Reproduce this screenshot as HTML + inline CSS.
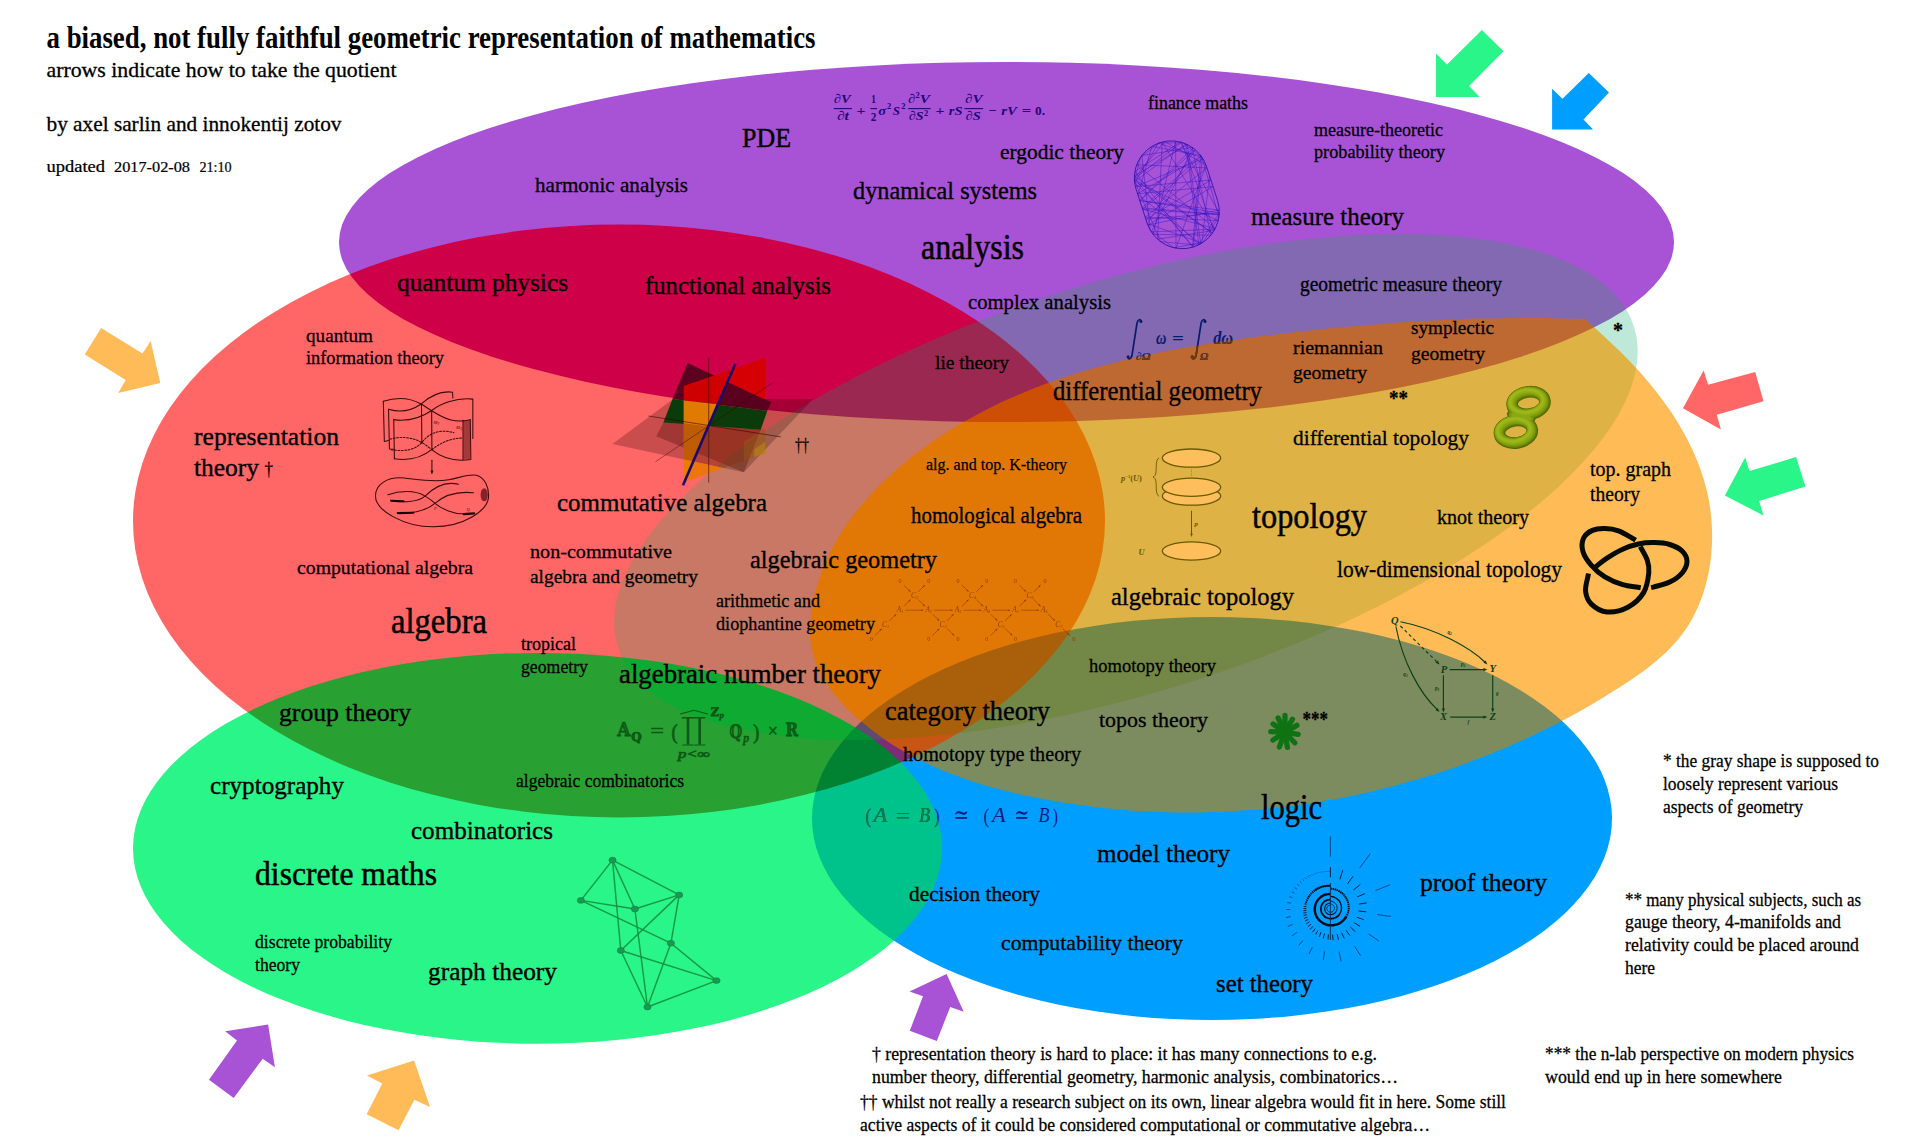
<!DOCTYPE html>
<html lang="en"><head><meta charset="utf-8"><title>a biased, not fully faithful geometric representation of mathematics</title>
<style>
html,body{margin:0;padding:0;background:#fff;}
body{width:1920px;height:1148px;overflow:hidden;}
svg{display:block;}
text{font-family:"Liberation Serif","DejaVu Serif",serif;white-space:pre;}
</style></head><body>
<svg width="1920" height="1148" viewBox="0 0 1920 1148">
<rect width="1920" height="1148" fill="#fff"/>
<g id="regions">
<defs>
<ellipse cx="1006.5" cy="242" rx="667.5" ry="180" id="sP"/>
<ellipse cx="619" cy="521" rx="486" ry="296.4" id="sR"/>
<ellipse cx="537.5" cy="848.3" rx="404.5" ry="195.4" id="sG"/>
<ellipse cx="1212" cy="818.5" rx="400" ry="201.5" id="sB"/>
<ellipse cx="1125.9" cy="486.9" rx="532.7" ry="205.4" transform="rotate(-17.49 1125.9 486.9)" id="sY"/>
<path d="M1585.0,319.0C1591.2,324.7 1597.5,330.2 1603.7,336.0C1609.9,341.7 1616.1,347.5 1622.1,353.5C1628.2,359.6 1634.1,365.8 1639.8,372.1C1645.5,378.5 1651.0,385.0 1656.3,391.7C1661.5,398.4 1666.6,405.3 1671.3,412.3C1676.0,419.4 1680.4,426.6 1684.4,433.9C1688.4,441.3 1692.2,448.8 1695.4,456.5C1698.7,464.2 1701.5,472.0 1703.9,480.0C1706.3,488.0 1708.2,496.2 1709.6,504.5C1710.9,512.8 1711.8,521.3 1712.0,529.9C1712.3,538.5 1712.0,547.3 1711.1,556.0C1710.2,564.6 1708.7,573.4 1706.5,581.8C1704.4,590.2 1701.7,598.5 1698.3,606.3C1694.9,614.1 1690.9,621.6 1686.3,628.5C1681.7,635.4 1676.3,641.8 1670.6,647.8C1664.9,653.8 1658.5,659.2 1652.0,664.5C1645.5,669.8 1638.5,674.6 1631.5,679.4C1624.5,684.2 1617.3,688.8 1610.1,693.3C1602.9,697.8 1595.6,702.1 1588.3,706.4C1580.9,710.6 1573.5,714.7 1566.0,718.7C1558.5,722.7 1551.0,726.6 1543.4,730.3C1535.8,734.0 1528.1,737.7 1520.4,741.2C1512.7,744.7 1504.9,748.0 1497.1,751.3C1489.3,754.5 1481.4,757.6 1473.5,760.6C1465.5,763.6 1457.6,766.5 1449.6,769.2C1441.5,771.9 1433.5,774.5 1425.4,777.0C1417.3,779.5 1409.2,781.8 1401.0,784.1C1392.8,786.3 1384.6,788.4 1376.4,790.4C1368.1,792.3 1359.9,794.2 1351.6,795.9C1343.3,797.6 1335.0,799.1 1326.6,800.6C1318.3,802.0 1309.9,803.3 1301.5,804.5C1293.1,805.7 1284.7,806.8 1276.3,807.7C1267.9,808.6 1259.4,809.4 1251.0,810.1C1242.6,810.7 1234.1,811.2 1225.6,811.6C1217.2,812.0 1208.7,812.3 1200.2,812.4C1191.7,812.5 1183.3,812.5 1174.8,812.4C1166.3,812.2 1157.8,811.9 1149.4,811.5C1140.9,811.1 1132.4,810.6 1124.0,809.9C1115.5,809.2 1107.1,808.4 1098.6,807.4C1090.2,806.5 1081.8,805.4 1073.4,804.1C1065.0,802.9 1056.6,801.5 1048.2,800.0C1039.8,798.5 1031.5,796.9 1023.2,795.1C1014.9,793.3 1006.6,791.3 998.4,789.1C990.2,787.0 982.1,784.6 974.0,782.0C966.0,779.4 958.0,776.6 950.2,773.6C942.3,770.5 934.6,767.2 927.0,763.6C919.4,760.0 911.9,756.1 904.6,751.9C897.3,747.7 890.1,743.2 883.2,738.4C876.2,733.5 869.3,728.3 862.8,722.8C856.2,717.2 849.7,711.2 843.8,704.9C838.0,698.6 832.3,692.0 827.7,685.0C823.0,678.0 818.8,670.6 815.9,663.0C813.0,655.3 811.1,647.2 810.3,639.1C809.5,630.9 810.0,622.3 811.0,613.9C812.0,605.6 813.9,597.1 816.1,589.0C818.4,580.9 821.2,573.0 824.4,565.3C827.6,557.6 831.3,550.1 835.3,542.8C839.4,535.5 843.9,528.5 848.8,521.6C853.6,514.8 858.9,508.1 864.4,501.7C869.9,495.3 875.8,489.1 881.9,483.1C887.9,477.1 894.4,471.3 900.9,465.7C907.5,460.1 914.4,454.8 921.3,449.6C928.3,444.5 935.5,439.5 942.8,434.8C950.1,430.1 957.5,425.6 965.0,421.3C972.5,417.0 980.1,413.0 987.7,409.1C995.3,405.2 1003.0,401.6 1010.7,398.1C1018.4,394.7 1026.2,391.4 1034.1,388.3C1041.9,385.2 1049.8,382.3 1057.7,379.6C1065.7,376.8 1073.7,374.2 1081.7,371.8C1089.7,369.3 1097.8,367.1 1105.9,364.9C1114.0,362.7 1122.1,360.7 1130.3,358.8C1138.4,356.9 1146.6,355.1 1154.9,353.4C1163.1,351.7 1171.4,350.1 1179.7,348.6C1188.0,347.1 1196.3,345.7 1204.6,344.4C1213.0,343.0 1221.3,341.8 1229.7,340.6C1238.1,339.4 1246.5,338.2 1254.9,337.1C1263.3,336.0 1271.7,335.0 1280.2,333.9C1288.6,332.9 1297.0,331.9 1305.5,331.0C1314.0,330.1 1322.4,329.2 1330.9,328.3C1339.4,327.5 1347.8,326.7 1356.3,326.0C1364.8,325.2 1373.3,324.5 1381.8,323.9C1390.3,323.2 1398.8,322.6 1407.3,322.1C1415.8,321.5 1424.3,321.0 1432.8,320.6C1441.3,320.1 1449.7,319.8 1458.2,319.4C1466.7,319.1 1475.2,318.8 1483.7,318.6C1492.2,318.4 1500.6,318.3 1509.1,318.2C1517.6,318.1 1526.0,318.0 1534.5,318.1C1542.9,318.1 1551.3,318.2 1559.8,318.4C1568.2,318.5 1576.6,318.8 1585.0,319.0Z" id="sO"/>
<mask id="mP" maskUnits="userSpaceOnUse" x="0" y="0" width="1920" height="1148" style="mask-type:alpha"><use href="#sP" fill="#fff"/></mask>
<mask id="mR" maskUnits="userSpaceOnUse" x="0" y="0" width="1920" height="1148" style="mask-type:alpha"><use href="#sR" fill="#fff"/></mask>
<mask id="mG" maskUnits="userSpaceOnUse" x="0" y="0" width="1920" height="1148" style="mask-type:alpha"><use href="#sG" fill="#fff"/></mask>
<mask id="mB" maskUnits="userSpaceOnUse" x="0" y="0" width="1920" height="1148" style="mask-type:alpha"><use href="#sB" fill="#fff"/></mask>
<mask id="mY" maskUnits="userSpaceOnUse" x="0" y="0" width="1920" height="1148" style="mask-type:alpha"><use href="#sY" fill="#fff"/></mask>
<mask id="mO" maskUnits="userSpaceOnUse" x="0" y="0" width="1920" height="1148" style="mask-type:alpha"><use href="#sO" fill="#fff"/></mask>
<clipPath id="clipO"><use href="#sO"/></clipPath>
<clipPath id="clipG"><use href="#sG"/></clipPath>
</defs>
<rect width="1920" height="1148" fill="#ffffff"/>
<use href="#sO" fill="#ffbb56"/>
<g mask="url(#mY)"><rect width="1920" height="1148" fill="#bee8d7"/>
<use href="#sO" fill="#deb244"/></g>
<g mask="url(#mB)"><rect width="1920" height="1148" fill="#009eff"/>
<use href="#sO" fill="#7d8c5f"/>
<g mask="url(#mY)"><rect width="1920" height="1148" fill="#2896c8"/>
<use href="#sO" fill="#738746"/></g></g>
<g mask="url(#mG)"><rect width="1920" height="1148" fill="#2af588"/>
<use href="#sY" fill="#1ec86e"/>
<g mask="url(#mB)"><rect width="1920" height="1148" fill="#00c38c"/>
<use href="#sY" fill="#00aa78"/></g></g>
<g mask="url(#mR)"><rect width="1920" height="1148" fill="#ff6666"/>
<use href="#sO" fill="#f07d14"/>
<g mask="url(#mY)"><rect width="1920" height="1148" fill="#c87864"/>
<use href="#sO" fill="#e17805"/></g>
<g mask="url(#mB)"><rect width="1920" height="1148" fill="#7d2d78"/>
<use href="#sO" fill="#c85514"/>
<g mask="url(#mY)"><rect width="1920" height="1148" fill="#5f4b6e"/>
<use href="#sO" fill="#aa5f0a"/></g></g>
<g mask="url(#mG)"><rect width="1920" height="1148" fill="#28a032"/>
<use href="#sY" fill="#0faa32"/>
<g mask="url(#mB)"><rect width="1920" height="1148" fill="#008232"/>
<use href="#sY" fill="#009132"/></g></g></g>
<g mask="url(#mP)"><rect width="1920" height="1148" fill="#a852d6"/>
<use href="#sO" fill="#d6893b"/>
<g mask="url(#mY)"><rect width="1920" height="1148" fill="#8269b2"/>
<use href="#sO" fill="#be6932"/></g>
<g mask="url(#mR)"><rect width="1920" height="1148" fill="#cd0048"/>
<use href="#sO" fill="#cd4e05"/>
<g mask="url(#mY)"><rect width="1920" height="1148" fill="#9b2850"/>
<use href="#sO" fill="#cd4e05"/></g></g></g>
</g>
<g id="figures">
<defs><filter id="soft" x="-20%" y="-20%" width="140%" height="140%"><feGaussianBlur stdDeviation="0.7"/></filter></defs>
<polygon points="1481.9,30.0 1503.5,51.2 1469.1,86.0 1479.6,97.1 1436.0,97.1 1436.0,53.8 1447.1,64.4" fill="#2af588"/>
<polygon points="1588.8,72.9 1609.0,92.5 1583.5,119.6 1593.1,129.6 1552.1,129.6 1552.1,88.8 1562.5,98.8" fill="#009fff"/>
<polygon points="1683.0,408.3 1703.6,370.4 1708.1,384.8 1755.2,372.0 1763.5,401.3 1716.8,414.8 1720.9,429.5" fill="#ff6666"/>
<polygon points="1724.9,495.5 1745.2,457.4 1749.4,471.1 1796.1,457.1 1805.4,486.4 1759.1,501.0 1763.5,515.5" fill="#2af588"/>
<polygon points="101.1,328.0 84.8,354.4 125.7,379.9 118.2,393.0 160.3,383.0 150.6,340.9 142.5,353.5" fill="#ffbb57"/>
<polygon points="268.1,1024.5 225.2,1031.3 237.0,1040.5 209.0,1079.7 233.7,1098.0 262.7,1058.7 274.9,1067.3" fill="#a852d6"/>
<polygon points="414.1,1060.5 367.0,1075.4 382.3,1083.5 366.7,1114.3 398.5,1130.2 414.4,1099.8 430.1,1107.1" fill="#ffbb57"/>
<polygon points="946.6,974.1 909.6,991.4 923.0,996.2 909.8,1030.8 936.8,1041.1 950.2,1006.9 963.7,1011.7" fill="#a852d6"/>
<polygon points="612.4,444.1 673.2,399.0 813.0,399.0 743.8,472.2" fill="#200" fill-opacity="0.24"/>
<polygon points="687.6,363.1 771.2,402.3 767.3,410.8 672.5,399.0" fill="#50001c" fill-opacity="0.9"/>
<polygon points="672.5,399.0 767.3,410.8 760.7,429.7 663.4,422.5" fill="#003a06" fill-opacity="0.95"/>
<polygon points="663.4,422.5 760.7,429.7 743.8,472.2 656.2,436.3" fill="#501008" fill-opacity="0.35"/>
<polygon points="733.3,368.8 765.3,357.8 765.3,399.5 727.4,381.8" fill="#d40000" fill-opacity="0.95"/>
<polygon points="683.6,385.9 733.3,368.8 717.9,404.2 683.6,400.4" fill="#d40000" fill-opacity="0.95"/>
<polygon points="683.6,400.4 717.9,404.2 684.4,482.0 683.6,482.0" fill="#ec7d00" fill-opacity="0.95"/>
<polygon points="693.0,461.3 723.6,467.9 684.4,482.0" fill="#ea7800" fill-opacity="0.9"/>
<polygon points="711.1,426.5 760.7,429.7 765.3,428.4 765.3,453.2 723.6,467.9 693.0,461.3" fill="#8a2a00" fill-opacity="0.3"/>
<polygon points="743.8,441.5 765.3,428.4 765.3,453.2 743.8,460.8" fill="#b09000" fill-opacity="0.18"/>
<polygon points="754.2,449.3 765.3,441.5 765.3,453.2 754.2,457.2" fill="#d0a800" fill-opacity="0.35"/>
<polygon points="683.6,423.2 708.5,426.5 693.0,461.3 683.6,459.3" fill="#501008" fill-opacity="0.28"/>
<line x1="708.7" y1="357.8" x2="708.7" y2="482.6" stroke="#40100a" stroke-width="0.8" stroke-opacity="0.8"/>
<line x1="648.4" y1="416.0" x2="781.0" y2="436.9" stroke="#300" stroke-width="0.7" stroke-opacity="0.8"/>
<line x1="655.5" y1="461.7" x2="773.8" y2="382.0" stroke="#300" stroke-width="0.6" stroke-opacity="0.7"/>
<line x1="735.3" y1="363.7" x2="683.0" y2="485.3" stroke="#1a0a6e" stroke-width="2.6" stroke-opacity="1"/>
<g transform="translate(365,385) scale(0.1307)" fill="none" stroke="#3a0a0a" stroke-width="8" stroke-linecap="round" stroke-linejoin="round">
<path d="M140,125 C230,95 330,90 430,145 C480,175 560,240 650,265 C720,285 770,275 805,265"/>
<path d="M180,185 C260,210 350,200 430,145 C480,100 560,40 670,55 L672,100"/>
<path d="M220,265 C330,280 430,250 510,195 C580,140 700,95 825,108 L825,410"/>
<path d="M140,125 L148,432 L180,425"/>
<path d="M180,185 L187,490 L222,492"/>
<path d="M220,265 L225,565"/>
<path d="M225,565 C330,580 430,560 510,495 C590,560 680,590 810,570 L805,265"/>
<path d="M432,145 L435,440"/>
<path d="M510,195 L512,495"/>
<path d="M750,270 L750,570"/>
<path d="M80,850 C80,760 170,700 300,712 C420,725 520,745 640,725 C720,712 790,680 850,690 C920,705 950,790 945,860 C935,960 760,1085 520,1085 C300,1085 80,960 80,850 Z"/>
<path d="M175,840 C260,810 380,800 460,850 C500,875 520,890 535,905 C590,950 680,990 760,985"/>
<path d="M200,885 C280,900 400,900 460,850 C520,790 600,730 715,760"/>
<path d="M250,980 C380,985 470,960 535,905 C600,850 700,810 830,825"/>
<path d="M512,575 L512,670"/>
<path d="M190,415 C280,390 360,400 435,440 C470,460 490,480 512,495" stroke-dasharray="14 12"/>
<path d="M200,495 C300,510 380,500 435,440 C480,380 560,330 680,365" stroke-dasharray="14 12"/>
<path d="M512,495 C580,440 650,410 745,405" stroke-dasharray="14 12"/>
<path d="M500,655 L512,685 L524,655 Z" fill="#3a0a0a" stroke="none"/>
<path d="M200,885 L295,890 M250,980 L370,978 M755,988 L835,982" stroke-width="16" stroke="#1a0505"/>
<rect x="752" y="272" width="54" height="296" fill="#5a1414" fill-opacity="0.55" stroke="none"/>
<ellipse cx="912" cy="840" rx="28" ry="50" fill="#8a2028" stroke="none"/>
<circle cx="435" cy="440" r="7" fill="#3a0a0a" stroke="none"/>
</g>
<g font-style="italic" font-size="4.5" fill="#3a0a0a"><text x="433.5" y="424">M</text><text x="437.5" y="425" font-size="3">P</text><text x="456" y="429">M</text><text x="460" y="430" font-size="3">Q</text><text x="434" y="509.5">P</text><text x="466.5" y="511">Q</text></g>
<g transform="rotate(-18 1176.8 194.8)"><rect x="1139.8" y="140.0" width="74.0" height="109.6" rx="37.0" ry="37.0" fill="none" stroke="#2a12a0" stroke-width="0.9" stroke-opacity="0.85"/></g>
<path d="M1142.5,209.1 L1215.2,228.6 L1136.7,164.7 L1206.9,167.9 L1145.2,217.2 L1218.2,220.6 L1134.5,181.5 L1185.9,143.9 L1198.9,244.8 L1134.6,182.6 L1158.5,143.2 L1202.3,157.8 L1193.4,247.0 L1134.3,178.3 L1164.6,141.5 L1206.0,165.0 L1176.0,248.2 L1175.6,141.1 L1153.1,234.4 L1210.9,235.2 L1192.2,147.4 L1141.8,155.5 L1150.3,230.2 L1174.2,247.8 L1203.3,242.1 L1218.9,216.8 L1201.8,156.9 L1182.9,142.8 L1159.2,142.9 L1140.4,157.5 L1134.4,180.6 L1160.6,241.7 L1198.4,245.0 L1219.2,213.2 L1180.4,142.0 L1134.9,171.5 L1192.5,247.3 L1200.8,155.6 L1151.9,146.4 L1137.9,194.9 L1200.7,243.8 L1187.4,144.6 L1134.4,176.1 L1212.4,233.2 L1134.3,178.8 L1181.4,142.3 L1214.2,230.4 L1157.6,239.2 L1162.2,142.0 L1214.9,229.2 L1151.3,231.9 L1192.9,147.9 L1139.8,200.6 L1219.3,213.0 L1145.9,219.3 L1210.9,180.1 L1135.4,186.6 L1202.9,158.7 L1142.6,209.3 L1219.2,214.7 L1142.1,207.8 L1201.3,156.2 L1137.6,193.8 L1213.0,186.6 L1147.8,225.1 L1219.2,210.1 L1139.8,200.7 L1195.1,149.6 L1147.3,223.6 L1201.8,243.1 L1209.5,175.9" fill="none" stroke="#2a10c0" stroke-width="0.7" stroke-opacity="0.6" stroke-linejoin="round"/>
<g opacity="0.9"><g fill="#8a3c00" font-style="italic" font-size="7.4" text-anchor="middle">
<text x="900.0" y="612.2">A<tspan font-size="4.2" dy="1">1</tspan></text>
<text x="928.8" y="612.2">A<tspan font-size="4.2" dy="1">2</tspan></text>
<text x="958.1" y="612.2">A<tspan font-size="4.2" dy="1">3</tspan></text>
<text x="986.9" y="612.2">A<tspan font-size="4.2" dy="1">4</tspan></text>
<text x="1015.6" y="612.2">A<tspan font-size="4.2" dy="1">5</tspan></text>
<text x="1044.4" y="612.2">A<tspan font-size="4.2" dy="1">6</tspan></text>
<text x="914.4" y="597.6">C<tspan font-size="4.2" dy="1">2</tspan></text>
<text x="972.5" y="597.6">C<tspan font-size="4.2" dy="1">4</tspan></text>
<text x="1030.0" y="597.6">C<tspan font-size="4.2" dy="1">6</tspan></text>
<text x="885.6" y="626.8">C<tspan font-size="4.2" dy="1">1</tspan></text>
<text x="943.1" y="626.8">C<tspan font-size="4.2" dy="1">3</tspan></text>
<text x="1001.2" y="626.8">C<tspan font-size="4.2" dy="1">5</tspan></text>
<text x="1058.8" y="626.8">C<tspan font-size="4.2" dy="1">7</tspan></text>
<text x="900.0" y="583.2" font-style="normal" font-size="6.2">0</text>
<text x="928.8" y="583.2" font-style="normal" font-size="6.2">0</text>
<text x="958.1" y="583.2" font-style="normal" font-size="6.2">0</text>
<text x="986.9" y="583.2" font-style="normal" font-size="6.2">0</text>
<text x="1015.6" y="583.2" font-style="normal" font-size="6.2">0</text>
<text x="1045.0" y="583.2" font-style="normal" font-size="6.2">0</text>
<text x="871.2" y="641.4" font-style="normal" font-size="6.2">0</text>
<text x="928.8" y="641.4" font-style="normal" font-size="6.2">0</text>
<text x="958.1" y="641.4" font-style="normal" font-size="6.2">0</text>
<text x="986.9" y="641.4" font-style="normal" font-size="6.2">0</text>
<text x="1015.6" y="641.4" font-style="normal" font-size="6.2">0</text>
<text x="1073.8" y="641.4" font-style="normal" font-size="6.2">0</text>
</g><g stroke="#8a3c00" stroke-width="0.65" fill="#8a3c00">
<line x1="905.4" y1="610.2" x2="923.4" y2="610.2"/><polygon stroke="none" points="923.4,610.2 921.0,611.1 921.0,609.4"/>
<line x1="934.1" y1="610.2" x2="952.7" y2="610.2"/><polygon stroke="none" points="952.7,610.2 950.3,611.1 950.3,609.4"/>
<line x1="963.5" y1="610.2" x2="981.5" y2="610.2"/><polygon stroke="none" points="981.5,610.2 979.1,611.1 979.1,609.4"/>
<line x1="992.3" y1="610.2" x2="1010.2" y2="610.2"/><polygon stroke="none" points="1010.2,610.2 1007.8,611.1 1007.8,609.4"/>
<line x1="1021.0" y1="610.2" x2="1039.0" y2="610.2"/><polygon stroke="none" points="1039.0,610.2 1036.6,611.1 1036.6,609.4"/>
<line x1="903.8" y1="585.1" x2="910.6" y2="591.8"/><polygon stroke="none" points="910.6,591.8 908.2,590.7 909.5,589.5"/>
<line x1="918.2" y1="591.8" x2="924.9" y2="585.1"/><polygon stroke="none" points="924.9,585.1 923.9,587.4 922.6,586.1"/>
<line x1="903.8" y1="606.4" x2="910.6" y2="599.5"/><polygon stroke="none" points="910.6,599.5 909.5,601.8 908.3,600.6"/>
<line x1="918.2" y1="599.5" x2="925.0" y2="606.4"/><polygon stroke="none" points="925.0,606.4 922.6,605.3 923.9,604.1"/>
<line x1="961.9" y1="585.1" x2="968.7" y2="591.8"/><polygon stroke="none" points="968.7,591.8 966.3,590.7 967.6,589.5"/>
<line x1="976.3" y1="591.8" x2="983.1" y2="585.1"/><polygon stroke="none" points="983.1,585.1 982.0,587.4 980.7,586.1"/>
<line x1="961.9" y1="606.4" x2="968.7" y2="599.5"/><polygon stroke="none" points="968.7,599.5 967.7,601.8 966.4,600.6"/>
<line x1="976.3" y1="599.5" x2="983.1" y2="606.4"/><polygon stroke="none" points="983.1,606.4 980.8,605.3 982.0,604.1"/>
<line x1="1019.4" y1="585.1" x2="1026.2" y2="591.8"/><polygon stroke="none" points="1026.2,591.8 1023.8,590.7 1025.1,589.5"/>
<line x1="1033.8" y1="591.8" x2="1040.6" y2="585.1"/><polygon stroke="none" points="1040.6,585.1 1039.5,587.4 1038.2,586.1"/>
<line x1="1019.4" y1="606.4" x2="1026.2" y2="599.5"/><polygon stroke="none" points="1026.2,599.5 1025.2,601.8 1023.9,600.6"/>
<line x1="1033.8" y1="599.5" x2="1040.6" y2="606.4"/><polygon stroke="none" points="1040.6,606.4 1038.3,605.3 1039.5,604.1"/>
<line x1="889.4" y1="620.9" x2="896.2" y2="614.1"/><polygon stroke="none" points="896.2,614.1 895.1,616.4 893.9,615.2"/>
<line x1="875.0" y1="635.5" x2="881.8" y2="628.6"/><polygon stroke="none" points="881.8,628.6 880.8,630.9 879.5,629.7"/>
<line x1="932.6" y1="614.1" x2="939.3" y2="620.9"/><polygon stroke="none" points="939.3,620.9 937.0,619.8 938.3,618.6"/>
<line x1="946.9" y1="620.9" x2="953.7" y2="614.1"/><polygon stroke="none" points="953.7,614.1 952.6,616.4 951.4,615.2"/>
<line x1="932.5" y1="635.5" x2="939.3" y2="628.6"/><polygon stroke="none" points="939.3,628.6 938.3,630.9 937.0,629.7"/>
<line x1="947.0" y1="628.5" x2="954.3" y2="635.6"/><polygon stroke="none" points="954.3,635.6 951.9,634.6 953.2,633.3"/>
<line x1="990.7" y1="614.1" x2="997.4" y2="620.9"/><polygon stroke="none" points="997.4,620.9 995.1,619.8 996.4,618.6"/>
<line x1="1005.1" y1="620.9" x2="1011.8" y2="614.1"/><polygon stroke="none" points="1011.8,614.1 1010.8,616.4 1009.5,615.2"/>
<line x1="990.7" y1="635.5" x2="997.5" y2="628.6"/><polygon stroke="none" points="997.5,628.6 996.4,630.9 995.1,629.7"/>
<line x1="1005.1" y1="628.5" x2="1012.4" y2="635.6"/><polygon stroke="none" points="1012.4,635.6 1010.0,634.6 1011.3,633.3"/>
<line x1="1048.2" y1="614.1" x2="1054.9" y2="620.9"/><polygon stroke="none" points="1054.9,620.9 1052.6,619.8 1053.9,618.6"/>
<line x1="1062.6" y1="628.5" x2="1069.9" y2="635.6"/><polygon stroke="none" points="1069.9,635.6 1067.5,634.6 1068.8,633.3"/>
</g></g>
<g fill="#ffbe5c" stroke="#6a5a00" stroke-width="1.3">
<ellipse cx="1191.5" cy="458.1" rx="29.2" ry="9.1"/>
<ellipse cx="1191.5" cy="496.1" rx="29.2" ry="9.1"/>
<ellipse cx="1191.5" cy="487.3" rx="29.2" ry="9.1"/>
<ellipse cx="1191.5" cy="551" rx="29.2" ry="9.1"/>
</g>
<g stroke="#6a5a00" fill="none"><line x1="1191.5" y1="469.5" x2="1191.5" y2="476.5" stroke-width="0.6" stroke-dasharray="0.8 1"/><line x1="1191.5" y1="510.8" x2="1191.5" y2="535" stroke-width="1"/>
<path d="M1159,458 C1155.5,459 1156.5,468 1156,472 C1155.8,475 1154.5,476.5 1153,477 C1154.5,477.5 1155.8,479 1156,482 C1156.5,486 1155.5,495 1159,496.3" stroke-width="0.9"/></g>
<polygon points="1191.5,537 1190.2,533.5 1192.8,533.5" fill="#6a5a00"/>
<g fill="#6a5a00" font-style="italic" font-weight="bold" font-size="8.4"><text x="1121" y="480.8">p<tspan font-size="4.5" dy="-3">−1</tspan><tspan dy="3" font-style="normal">(</tspan>U<tspan font-style="normal">)</tspan></text><text x="1138.5" y="554.5">U</text><text x="1194.5" y="526" font-size="7">p</text></g>
<g fill="none" stroke="#050a02" stroke-width="5" stroke-linecap="butt"><path d="M1640.3,546.6C1642.6,551.1 1645.8,555.8 1647.3,560.2C1648.7,564.5 1649.4,567.3 1648.8,572.7C1648.2,578.1 1647.1,586.8 1643.6,592.6C1640.1,598.3 1634.0,604.0 1627.9,607.2C1621.8,610.4 1613.1,612.4 1607.0,611.9C1600.9,611.4 1594.9,607.5 1591.4,604.1C1587.8,600.7 1586.2,596.2 1585.6,591.5C1585.0,586.8 1587.5,579.0 1588.0,576.0C1588.5,573.1 1588.4,574.4 1588.6,573.5"/><path d="M1595.0,567.3C1599.0,564.2 1602.4,561.1 1607.0,558.1C1611.6,555.1 1617.5,551.5 1622.7,549.2C1627.9,546.8 1633.2,545.1 1638.4,544.0C1643.6,542.9 1648.8,542.5 1654.1,542.6C1659.3,542.7 1665.0,543.0 1669.7,544.5C1674.4,545.9 1679.4,548.5 1682.3,551.3C1685.1,554.1 1687.0,557.6 1687.0,561.2C1687.0,564.8 1685.1,569.2 1682.3,572.7C1679.4,576.2 1674.4,579.8 1669.7,582.1C1665.0,584.5 1657.2,585.9 1654.1,586.8C1651.0,587.7 1652.1,587.3 1651.1,587.5"/><path d="M1640.7,587.8C1634.7,586.7 1628.7,586.5 1622.7,584.7C1616.7,582.9 1610.2,580.1 1604.9,576.9C1599.7,573.7 1595.0,569.6 1591.4,565.4C1587.7,561.2 1584.3,556.3 1583.0,551.8C1581.7,547.3 1581.9,541.8 1583.5,538.2C1585.1,534.6 1588.8,532.0 1592.4,530.4C1596.0,528.8 1600.6,528.5 1604.9,528.6C1609.3,528.7 1613.8,529.2 1618.5,530.9C1623.2,532.6 1630.3,537.2 1633.2,538.7C1636.0,540.3 1634.7,539.8 1635.5,540.3"/></g>
<g fill="none" filter="url(#soft)"><ellipse cx="1521.2" cy="416.6" rx="14.5" ry="6.4" fill="#4f6903" transform="rotate(12 1521.2 416.6)"/><ellipse cx="1515.8" cy="431.9" rx="16.5" ry="11.2" stroke="#4f6903" stroke-width="11.6" transform="rotate(-8 1515.3 431.3)"/><ellipse cx="1528.5" cy="403.1" rx="16.5" ry="11.2" stroke="#4f6903" stroke-width="11.6" transform="rotate(-8 1528 402.5)"/><ellipse cx="1515.5" cy="431.6" rx="16.5" ry="11.2" stroke="#647f06" stroke-width="10.2" transform="rotate(-8 1515.3 431.3)"/><ellipse cx="1528.2" cy="402.8" rx="16.5" ry="11.2" stroke="#647f06" stroke-width="10.2" transform="rotate(-8 1528 402.5)"/><ellipse cx="1521.2" cy="416.6" rx="13.0" ry="5.2" fill="#78950b" transform="rotate(12 1521.2 416.6)"/><ellipse cx="1515.1" cy="431.1" rx="16.5" ry="11.2" stroke="#78950b" stroke-width="8.6" transform="rotate(-8 1515.3 431.3)"/><ellipse cx="1527.8" cy="402.3" rx="16.5" ry="11.2" stroke="#78950b" stroke-width="8.6" transform="rotate(-8 1528 402.5)"/><ellipse cx="1514.7" cy="430.6" rx="16.5" ry="11.2" stroke="#88a510" stroke-width="6.6" transform="rotate(-8 1515.3 431.3)"/><ellipse cx="1527.4" cy="401.8" rx="16.5" ry="11.2" stroke="#88a510" stroke-width="6.6" transform="rotate(-8 1528 402.5)"/><ellipse cx="1521.2" cy="416.6" rx="10.5" ry="3.4" fill="#8aa812" transform="rotate(12 1521.2 416.6)"/><ellipse cx="1514.3" cy="430.1" rx="16.5" ry="11.2" stroke="#94b015" stroke-width="4.4" transform="rotate(-8 1515.3 431.3)"/><ellipse cx="1527.0" cy="401.3" rx="16.5" ry="11.2" stroke="#94b015" stroke-width="4.4" transform="rotate(-8 1528 402.5)"/><ellipse cx="1514.0" cy="429.7" rx="16.5" ry="11.2" stroke="#9cb81a" stroke-width="2.2" transform="rotate(-8 1515.3 431.3)"/><ellipse cx="1526.7" cy="400.9" rx="16.5" ry="11.2" stroke="#9cb81a" stroke-width="2.2" transform="rotate(-8 1528 402.5)"/></g>
<g fill="#0a4018" font-style="italic" font-weight="bold" font-size="10.5" text-anchor="middle">
<text x="1394.7" y="623.5">Q</text>
<text x="1444.0" y="672.8">P</text>
<text x="1492.7" y="672.2">Y</text>
<text x="1443.4" y="720.3">X</text>
<text x="1492.7" y="720.3">Z</text>
</g>
<g fill="#0a4018" font-style="italic" font-weight="bold" font-size="5.2" text-anchor="middle">
<text x="1449.6" y="634.1">q<tspan font-size="3.6" dy="0.9">2</tspan></text>
<text x="1405.5" y="676.0">q<tspan font-size="3.6" dy="0.9">1</tspan></text>
<text x="1463.2" y="666.4">p<tspan font-size="3.6" dy="0.9">2</tspan></text>
<text x="1437.2" y="690.2">p<tspan font-size="3.6" dy="0.9">1</tspan></text>
<text x="1497.2" y="694.7">g<tspan font-size="3.6" dy="0.9"></tspan></text>
<text x="1468.3" y="724.2">f<tspan font-size="3.6" dy="0.9"></tspan></text>
</g>
<g fill="none" stroke="#0a4018" stroke-width="1.15">
<line x1="1449.6" y1="669.6" x2="1484.8" y2="669.6"/>
<line x1="1443.4" y1="675.2" x2="1443.4" y2="709.8"/>
<line x1="1492.7" y1="675.2" x2="1492.7" y2="709.8"/>
<line x1="1450.2" y1="717.1" x2="1484.8" y2="717.1"/>
<line x1="1400.4" y1="626.0" x2="1436.6" y2="661.6" stroke-dasharray="3.2 2.8"/>
<path d="M1400.4,621.8 C1436.6,628.8 1470.6,648.0 1485.3,662.5"/>
<path d="M1395.9,626.5 C1402.7,661.6 1419.6,693.3 1437.5,709.8"/>
</g>
<polygon points="1487.4,669.6 1483.4,671.2 1483.4,668.0" fill="#0a4018"/>
<polygon points="1443.4,712.4 1441.8,708.4 1445.0,708.4" fill="#0a4018"/>
<polygon points="1492.7,712.4 1491.1,708.4 1494.3,708.4" fill="#0a4018"/>
<polygon points="1487.4,717.1 1483.4,718.7 1483.4,715.5" fill="#0a4018"/>
<polygon points="1439.5,664.5 1435.5,662.8 1437.8,660.5" fill="#0a4018"/>
<polygon points="1487.4,664.5 1483.4,662.8 1485.7,660.5" fill="#0a4018"/>
<polygon points="1439.5,712.0 1435.5,710.3 1437.8,708.1" fill="#0a4018"/>
<g stroke="#0f7314" stroke-width="5.3" stroke-linecap="round" fill="none">
<line x1="1284.8" y1="732.2" x2="1285.0" y2="715.5"/>
<line x1="1284.8" y1="732.2" x2="1278.1" y2="718.0"/>
<line x1="1284.8" y1="732.2" x2="1292.5" y2="719.2"/>
<line x1="1284.8" y1="732.2" x2="1296.9" y2="725.4"/>
<line x1="1284.8" y1="732.2" x2="1298.1" y2="734.3"/>
<line x1="1284.8" y1="732.2" x2="1294.8" y2="742.8"/>
<line x1="1284.8" y1="732.2" x2="1287.4" y2="747.4"/>
<line x1="1284.8" y1="732.2" x2="1279.4" y2="746.9"/>
<line x1="1284.8" y1="732.2" x2="1272.9" y2="740.1"/>
<line x1="1284.8" y1="732.2" x2="1270.8" y2="731.7"/>
<line x1="1284.8" y1="732.2" x2="1273.1" y2="724.0"/>
</g>
<g stroke-linecap="butt" fill="none"><line x1="1330.4" y1="856.6" x2="1330.4" y2="836.4" stroke="#0a3a74" stroke-width="0.85"/><line x1="1359.7" y1="868.0" x2="1370.2" y2="853.6" stroke="#0a3a74" stroke-width="0.85"/><line x1="1375.4" y1="890.6" x2="1390.1" y2="884.8" stroke="#0a3a74" stroke-width="0.85"/><line x1="1377.1" y1="914.6" x2="1391.0" y2="916.4" stroke="#0a3a74" stroke-width="0.85"/><line x1="1368.6" y1="934.0" x2="1378.9" y2="940.9" stroke="#0a3a74" stroke-width="0.85"/><line x1="1354.6" y1="946.3" x2="1360.5" y2="955.6" stroke="#0a3a74" stroke-width="0.85"/><line x1="1339.1" y1="951.7" x2="1341.0" y2="961.2" stroke="#0a3a74" stroke-width="0.85"/><line x1="1324.5" y1="951.4" x2="1323.3" y2="959.9" stroke="#0a3a74" stroke-width="0.85"/><line x1="1312.3" y1="947.1" x2="1309.1" y2="954.0" stroke="#0a3a74" stroke-width="0.85"/><line x1="1303.1" y1="940.4" x2="1298.7" y2="945.5" stroke="#0a3a74" stroke-width="0.85"/><line x1="1296.6" y1="932.5" x2="1291.8" y2="936.0" stroke="#0a3a74" stroke-width="0.85"/><line x1="1292.6" y1="924.4" x2="1287.8" y2="926.5" stroke="#0a3a74" stroke-width="0.85"/><line x1="1290.7" y1="916.6" x2="1286.1" y2="917.6" stroke="#0a3a74" stroke-width="0.85"/><line x1="1290.3" y1="909.5" x2="1286.1" y2="909.6" stroke="#0a3a74" stroke-width="0.85"/><line x1="1290.9" y1="903.1" x2="1287.3" y2="902.6" stroke="#0a3a74" stroke-width="0.85"/><line x1="1292.4" y1="897.6" x2="1289.3" y2="896.7" stroke="#0a3a74" stroke-width="0.85"/><line x1="1294.4" y1="892.9" x2="1291.8" y2="891.8" stroke="#0a3a74" stroke-width="0.85"/><line x1="1296.7" y1="889.0" x2="1294.5" y2="887.7" stroke="#0a3a74" stroke-width="0.85"/><line x1="1299.1" y1="885.7" x2="1297.3" y2="884.3" stroke="#0a3a74" stroke-width="0.85"/><line x1="1301.5" y1="883.0" x2="1300.0" y2="881.6" stroke="#0a3a74" stroke-width="0.85"/><line x1="1303.9" y1="880.7" x2="1302.7" y2="879.5" stroke="#0a3a74" stroke-width="0.85"/><line x1="1306.2" y1="878.9" x2="1305.2" y2="877.7" stroke="#0a3a74" stroke-width="0.85"/><line x1="1308.4" y1="877.4" x2="1307.6" y2="876.3" stroke="#0a3a74" stroke-width="0.85"/><line x1="1310.4" y1="876.3" x2="1309.7" y2="875.2" stroke="#0a3a74" stroke-width="0.85"/><line x1="1312.3" y1="875.3" x2="1311.8" y2="874.4" stroke="#0a3a74" stroke-width="0.85"/><path d="M1313.8,874.1C1314.0,874.0 1314.1,874.0 1314.3,873.9C1314.5,873.8 1314.7,873.8 1314.9,873.7C1315.0,873.6 1315.2,873.6 1315.4,873.5C1315.6,873.4 1315.8,873.4 1315.9,873.3C1316.1,873.3 1316.3,873.2 1316.5,873.2C1316.7,873.1 1316.9,873.0 1317.0,873.0C1317.2,872.9 1317.4,872.9 1317.6,872.8C1317.8,872.8 1318.0,872.7 1318.1,872.7C1318.3,872.6 1318.5,872.6 1318.7,872.5C1318.9,872.5 1319.1,872.5 1319.2,872.4C1319.4,872.4 1319.6,872.3 1319.8,872.3C1320.0,872.2 1320.2,872.2 1320.3,872.2C1320.5,872.1 1320.7,872.1 1320.9,872.1C1321.1,872.0 1321.3,872.0 1321.5,872.0C1321.6,871.9 1321.8,871.9 1322.0,871.9C1322.2,871.9 1322.4,871.8 1322.6,871.8C1322.8,871.8 1323.0,871.8 1323.1,871.7C1323.3,871.7 1323.5,871.7 1323.7,871.7C1323.9,871.6 1324.1,871.6 1324.3,871.6C1324.4,871.6 1324.6,871.6 1324.8,871.6C1325.0,871.5 1325.2,871.5 1325.4,871.5C1325.6,871.5 1325.8,871.5 1325.9,871.5C1326.1,871.5 1326.3,871.5 1326.5,871.5C1326.7,871.5 1326.9,871.5 1327.1,871.5C1327.2,871.5 1327.4,871.5 1327.6,871.5C1327.8,871.5 1328.0,871.5 1328.2,871.5C1328.4,871.5 1328.5,871.5 1328.7,871.5C1328.9,871.5 1329.1,871.5 1329.3,871.5C1329.5,871.5 1329.7,871.5 1329.8,871.5C1330.0,871.5 1330.2,871.6 1330.4,871.6" fill="none" stroke="#0a3a74" stroke-width="0.95" stroke-opacity="0.8" stroke-dasharray="0.9 1.1"/><line x1="1330.4" y1="877.3" x2="1330.4" y2="867.2" stroke="#04203f" stroke-width="1.0"/><line x1="1339.8" y1="879.4" x2="1342.8" y2="870.2" stroke="#04203f" stroke-width="1.0"/><line x1="1347.6" y1="883.9" x2="1352.9" y2="876.3" stroke="#04203f" stroke-width="1.0"/><line x1="1353.4" y1="890.0" x2="1360.3" y2="884.5" stroke="#04203f" stroke-width="1.0"/><line x1="1357.1" y1="896.9" x2="1364.9" y2="893.6" stroke="#04203f" stroke-width="1.0"/><line x1="1358.8" y1="904.1" x2="1366.7" y2="902.9" stroke="#04203f" stroke-width="1.0"/><line x1="1358.6" y1="911.0" x2="1366.2" y2="911.8" stroke="#04203f" stroke-width="1.0"/><line x1="1356.9" y1="917.3" x2="1363.9" y2="919.7" stroke="#04203f" stroke-width="1.0"/><line x1="1354.1" y1="922.7" x2="1360.1" y2="926.3" stroke="#04203f" stroke-width="1.0"/><line x1="1350.4" y1="927.1" x2="1355.3" y2="931.7" stroke="#04203f" stroke-width="1.0"/><line x1="1346.1" y1="930.4" x2="1349.9" y2="935.6" stroke="#04203f" stroke-width="1.0"/><line x1="1341.6" y1="932.8" x2="1344.2" y2="938.3" stroke="#04203f" stroke-width="1.0"/><line x1="1337.1" y1="934.1" x2="1338.5" y2="939.7" stroke="#04203f" stroke-width="1.0"/><line x1="1332.6" y1="934.6" x2="1333.1" y2="940.2" stroke="#04203f" stroke-width="1.0"/><line x1="1328.4" y1="934.4" x2="1328.0" y2="939.7" stroke="#04203f" stroke-width="1.0"/><line x1="1324.5" y1="933.6" x2="1323.3" y2="938.5" stroke="#04203f" stroke-width="1.0"/><line x1="1321.0" y1="932.3" x2="1319.2" y2="936.8" stroke="#04203f" stroke-width="1.0"/><line x1="1317.9" y1="930.6" x2="1315.6" y2="934.6" stroke="#04203f" stroke-width="1.0"/><line x1="1315.2" y1="928.6" x2="1312.5" y2="932.1" stroke="#04203f" stroke-width="1.0"/><line x1="1312.9" y1="926.4" x2="1309.9" y2="929.5" stroke="#04203f" stroke-width="1.0"/><line x1="1311.0" y1="924.1" x2="1307.9" y2="926.7" stroke="#04203f" stroke-width="1.0"/><line x1="1309.5" y1="921.8" x2="1306.2" y2="923.8" stroke="#04203f" stroke-width="1.0"/><line x1="1308.3" y1="919.4" x2="1305.0" y2="921.0" stroke="#04203f" stroke-width="1.0"/><line x1="1307.4" y1="917.1" x2="1304.1" y2="918.3" stroke="#04203f" stroke-width="1.0"/><line x1="1306.8" y1="914.8" x2="1303.6" y2="915.6" stroke="#04203f" stroke-width="1.0"/><line x1="1306.5" y1="912.6" x2="1303.3" y2="913.1" stroke="#04203f" stroke-width="1.0"/><line x1="1306.3" y1="910.5" x2="1303.3" y2="910.7" stroke="#04203f" stroke-width="1.0"/><line x1="1306.3" y1="908.5" x2="1303.4" y2="908.5" stroke="#04203f" stroke-width="1.0"/><line x1="1306.5" y1="906.6" x2="1303.7" y2="906.4" stroke="#04203f" stroke-width="1.0"/><path d="M1305.5,904.6C1305.6,904.2 1305.7,903.8 1305.8,903.4C1305.9,903.1 1306.0,902.7 1306.1,902.3C1306.3,901.9 1306.4,901.6 1306.5,901.2C1306.7,900.8 1306.8,900.5 1307.0,900.1C1307.2,899.7 1307.3,899.4 1307.5,899.0C1307.7,898.7 1307.9,898.3 1308.0,898.0C1308.2,897.7 1308.4,897.3 1308.6,897.0C1308.8,896.7 1309.1,896.4 1309.3,896.0C1309.5,895.7 1309.7,895.4 1310.0,895.1C1310.2,894.8 1310.4,894.5 1310.7,894.2C1310.9,893.9 1311.2,893.6 1311.5,893.3C1311.7,893.1 1312.0,892.8 1312.3,892.5C1312.5,892.2 1312.8,892.0 1313.1,891.7C1313.4,891.5 1313.7,891.2 1314.0,891.0C1314.3,890.8 1314.6,890.5 1314.9,890.3C1315.2,890.1 1315.5,889.9 1315.8,889.7C1316.1,889.5 1316.4,889.3 1316.7,889.1C1317.1,888.9 1317.4,888.7 1317.7,888.5C1318.0,888.3 1318.4,888.2 1318.7,888.0C1319.1,887.9 1319.4,887.7 1319.7,887.6C1320.1,887.4 1320.4,887.3 1320.8,887.2C1321.1,887.0 1321.5,886.9 1321.8,886.8C1322.2,886.7 1322.5,886.6 1322.9,886.5C1323.2,886.4 1323.6,886.3 1323.9,886.3C1324.3,886.2 1324.7,886.1 1325.0,886.1C1325.4,886.0 1325.7,886.0 1326.1,885.9C1326.5,885.9 1326.8,885.9 1327.2,885.8C1327.5,885.8 1327.9,885.8 1328.3,885.8C1328.6,885.8 1329.0,885.8 1329.3,885.8C1329.7,885.8 1330.0,885.9 1330.4,885.9" fill="none" stroke="#020c1a" stroke-width="2.13" stroke-dasharray="1.3 0.7"/><path d="M1314.9,890.3C1315.2,890.1 1315.5,889.9 1315.8,889.7C1316.1,889.5 1316.4,889.3 1316.7,889.1C1317.1,888.9 1317.4,888.7 1317.7,888.5C1318.0,888.3 1318.4,888.2 1318.7,888.0C1319.1,887.9 1319.4,887.7 1319.7,887.6C1320.1,887.4 1320.4,887.3 1320.8,887.2C1321.1,887.0 1321.5,886.9 1321.8,886.8C1322.2,886.7 1322.5,886.6 1322.9,886.5C1323.2,886.4 1323.6,886.3 1323.9,886.3C1324.3,886.2 1324.7,886.1 1325.0,886.1C1325.4,886.0 1325.7,886.0 1326.1,885.9C1326.5,885.9 1326.8,885.9 1327.2,885.8C1327.5,885.8 1327.9,885.8 1328.3,885.8C1328.6,885.8 1329.0,885.8 1329.3,885.8C1329.7,885.8 1330.0,885.9 1330.4,885.9" fill="none" stroke="#020c1a" stroke-width="1.46"/></g>
<path d="M1330.4,888.5C1331.4,888.7 1332.5,888.8 1333.5,889.0C1334.5,889.2 1335.5,889.5 1336.4,889.9C1337.4,890.2 1338.3,890.7 1339.2,891.2C1340.0,891.7 1340.9,892.3 1341.7,892.9C1342.4,893.5 1343.2,894.2 1343.8,895.0C1344.5,895.7 1345.1,896.5 1345.7,897.3C1346.2,898.1 1346.7,899.0 1347.1,899.9C1347.5,900.8 1347.8,901.7 1348.1,902.7C1348.3,903.6 1348.5,904.6 1348.6,905.5C1348.7,906.5 1348.7,907.4 1348.7,908.4C1348.6,909.4 1348.5,910.3 1348.3,911.2C1348.1,912.2 1347.9,913.1 1347.5,914.0C1347.2,914.8 1346.7,915.7 1346.3,916.5" fill="none" stroke="#020a14" stroke-width="1.92" stroke-dasharray="1.5 0.6"/>
<path d="M1346.3,916.5C1345.8,917.3 1345.3,918.1 1344.7,918.8C1344.2,919.5 1343.5,920.2 1342.8,920.8C1342.2,921.5 1341.4,922.0 1340.7,922.5C1339.9,923.0 1339.1,923.5 1338.3,923.8C1337.4,924.2 1336.6,924.5 1335.7,924.7C1334.8,925.0 1334.0,925.2 1333.1,925.2C1332.2,925.3 1331.3,925.4 1330.4,925.3C1329.5,925.3 1328.6,925.2 1327.8,925.0C1326.9,924.8 1326.1,924.6 1325.3,924.2C1324.4,923.9 1323.6,923.6 1322.9,923.1C1322.1,922.7 1321.4,922.2 1320.8,921.7C1320.1,921.1 1319.5,920.5 1318.9,919.9C1318.3,919.3 1317.8,918.6 1317.3,917.9C1316.9,917.2 1316.5,916.4 1316.1,915.7C1315.8,914.9 1315.5,914.1 1315.3,913.3C1315.1,912.5 1314.9,911.7 1314.8,910.9C1314.7,910.0 1314.7,909.2 1314.8,908.4C1314.8,907.6 1314.9,906.8 1315.1,906.0C1315.2,905.2 1315.5,904.4 1315.8,903.6C1316.1,902.9 1316.4,902.2 1316.8,901.5C1317.2,900.8 1317.7,900.1 1318.2,899.5C1318.7,898.9 1319.2,898.3 1319.8,897.8C1320.4,897.3 1321.0,896.8 1321.7,896.4C1322.3,895.9 1323.0,895.6 1323.7,895.2C1324.4,894.9 1325.1,894.7 1325.9,894.5C1326.6,894.3 1327.4,894.1 1328.1,894.1C1328.9,894.0 1329.6,894.0 1330.4,894.0" fill="none" stroke="#020a14" stroke-width="2.40"/>
<path d="M1330.4,896.4C1331.0,896.4 1331.7,896.5 1332.3,896.6C1332.9,896.8 1333.5,896.9 1334.1,897.2C1334.6,897.4 1335.2,897.6 1335.7,898.0C1336.3,898.3 1336.8,898.6 1337.2,899.0C1337.7,899.4 1338.2,899.8 1338.6,900.2C1339.0,900.7 1339.3,901.2 1339.7,901.7C1340.0,902.2 1340.3,902.7 1340.5,903.2C1340.8,903.8 1341.0,904.3 1341.1,904.9C1341.3,905.5 1341.4,906.1 1341.4,906.7C1341.5,907.2 1341.5,907.8 1341.5,908.4C1341.5,909.0 1341.4,909.6 1341.3,910.1C1341.2,910.7 1341.0,911.2 1340.8,911.8C1340.6,912.3 1340.3,912.8 1340.1,913.3" fill="none" stroke="#020a14" stroke-width="1.36"/>
<path d="M1340.1,913.3C1339.7,913.8 1339.5,914.3 1339.1,914.7C1338.8,915.2 1338.4,915.6 1338.0,916.0C1337.5,916.3 1337.1,916.7 1336.6,917.0C1336.2,917.3 1335.7,917.6 1335.2,917.8C1334.7,918.0 1334.2,918.2 1333.6,918.3C1333.1,918.5 1332.6,918.6 1332.0,918.6C1331.5,918.7 1330.9,918.7 1330.4,918.7C1329.9,918.7 1329.3,918.6 1328.8,918.5C1328.3,918.4 1327.8,918.2 1327.3,918.0C1326.8,917.8 1326.3,917.6 1325.8,917.4C1325.4,917.1 1324.9,916.8 1324.5,916.5C1324.1,916.1 1323.8,915.8 1323.4,915.4C1323.1,915.0 1322.7,914.6 1322.5,914.2C1322.2,913.7 1321.9,913.3 1321.7,912.8C1321.5,912.4 1321.3,911.9 1321.2,911.4C1321.1,910.9 1321.0,910.4 1320.9,909.9C1320.9,909.4 1320.9,908.9 1320.9,908.4C1320.9,907.9 1321.0,907.4 1321.1,906.9C1321.2,906.4 1321.3,906.0 1321.5,905.5C1321.7,905.1 1321.9,904.6 1322.1,904.2C1322.4,903.8 1322.6,903.4 1322.9,903.0C1323.3,902.6 1323.6,902.3 1323.9,901.9C1324.3,901.6 1324.7,901.3 1325.1,901.1C1325.5,900.8 1325.9,900.6 1326.3,900.4C1326.7,900.2 1327.2,900.0 1327.6,899.9C1328.1,899.8 1328.6,899.7 1329.0,899.7C1329.5,899.6 1329.9,899.6 1330.4,899.6" fill="none" stroke="#020a14" stroke-width="1.70"/>
<path d="M1330.4,901.1C1330.8,901.2 1331.2,901.2 1331.5,901.3C1331.9,901.4 1332.3,901.5 1332.6,901.6C1333.0,901.8 1333.3,901.9 1333.6,902.1C1333.9,902.3 1334.2,902.5 1334.5,902.7C1334.8,903.0 1335.1,903.2 1335.3,903.5C1335.6,903.7 1335.8,904.0 1336.0,904.3C1336.2,904.6 1336.4,905.0 1336.5,905.3C1336.7,905.6 1336.8,906.0 1336.9,906.3C1337.0,906.6 1337.0,907.0 1337.1,907.3C1337.1,907.7 1337.1,908.1 1337.1,908.4C1337.1,908.7 1337.0,909.1 1337.0,909.4C1336.9,909.8 1336.8,910.1 1336.7,910.4C1336.6,910.8 1336.4,911.1 1336.2,911.4" fill="none" stroke="#020a14" stroke-width="0.88"/>
<path d="M1336.2,911.4C1336.0,911.7 1335.9,912.0 1335.7,912.2C1335.4,912.5 1335.2,912.7 1335.0,913.0C1334.7,913.2 1334.4,913.4 1334.2,913.6C1333.9,913.8 1333.6,913.9 1333.3,914.1C1333.0,914.2 1332.7,914.3 1332.3,914.4C1332.0,914.5 1331.7,914.5 1331.4,914.6C1331.1,914.6 1330.7,914.6 1330.4,914.6C1330.1,914.6 1329.8,914.6 1329.4,914.5C1329.1,914.4 1328.8,914.3 1328.5,914.2C1328.2,914.1 1327.9,914.0 1327.6,913.8C1327.4,913.7 1327.1,913.5 1326.9,913.3C1326.6,913.1 1326.4,912.9 1326.2,912.6C1326.0,912.4 1325.8,912.1 1325.6,911.9C1325.4,911.6 1325.3,911.4 1325.2,911.1C1325.0,910.8 1324.9,910.5 1324.8,910.2C1324.8,909.9 1324.7,909.6 1324.7,909.3C1324.6,909.0 1324.6,908.7 1324.7,908.4C1324.7,908.1 1324.7,907.8 1324.8,907.5C1324.8,907.2 1324.9,906.9 1325.0,906.7C1325.1,906.4 1325.3,906.1 1325.4,905.9C1325.5,905.6 1325.7,905.4 1325.9,905.1C1326.1,904.9 1326.3,904.7 1326.5,904.5C1326.7,904.3 1326.9,904.1 1327.2,904.0C1327.4,903.8 1327.7,903.7 1327.9,903.6C1328.2,903.4 1328.5,903.3 1328.7,903.3C1329.0,903.2 1329.3,903.2 1329.6,903.1C1329.8,903.1 1330.1,903.1 1330.4,903.1" fill="none" stroke="#020a14" stroke-width="1.10"/>
<path d="M1330.4,904.0C1330.6,904.0 1330.9,904.0 1331.1,904.1C1331.3,904.1 1331.5,904.2 1331.7,904.3C1332.0,904.3 1332.2,904.4 1332.4,904.6C1332.6,904.7 1332.7,904.8 1332.9,904.9C1333.1,905.1 1333.3,905.2 1333.4,905.4C1333.6,905.6 1333.7,905.7 1333.8,905.9C1333.9,906.1 1334.0,906.3 1334.1,906.5C1334.2,906.7 1334.3,906.9 1334.3,907.1C1334.4,907.3 1334.4,907.5 1334.5,907.8C1334.5,908.0 1334.5,908.2 1334.5,908.4C1334.5,908.6 1334.5,908.8 1334.4,909.0C1334.4,909.2 1334.3,909.4 1334.2,909.6C1334.2,909.8 1334.1,910.0 1334.0,910.2" fill="none" stroke="#020a14" stroke-width="0.64"/>
<path d="M1334.0,910.2C1333.8,910.4 1333.7,910.6 1333.6,910.7C1333.5,910.9 1333.3,911.0 1333.2,911.2C1333.0,911.3 1332.9,911.5 1332.7,911.6C1332.5,911.7 1332.3,911.8 1332.2,911.9C1332.0,911.9 1331.8,912.0 1331.6,912.1C1331.4,912.1 1331.2,912.2 1331.0,912.2C1330.8,912.2 1330.6,912.2 1330.4,912.2C1330.2,912.2 1330.0,912.2 1329.8,912.1C1329.6,912.1 1329.4,912.0 1329.2,912.0C1329.1,911.9 1328.9,911.8 1328.7,911.7C1328.5,911.6 1328.4,911.5 1328.2,911.4C1328.1,911.3 1327.9,911.1 1327.8,911.0C1327.7,910.8 1327.6,910.7 1327.5,910.5C1327.4,910.4 1327.3,910.2 1327.2,910.0C1327.1,909.9 1327.1,909.7 1327.0,909.5C1327.0,909.3 1326.9,909.1 1326.9,909.0C1326.9,908.8 1326.9,908.6 1326.9,908.4C1326.9,908.2 1326.9,908.0 1327.0,907.9C1327.0,907.7 1327.0,907.5 1327.1,907.3C1327.2,907.2 1327.2,907.0 1327.3,906.8C1327.4,906.7 1327.5,906.5 1327.6,906.4C1327.8,906.3 1327.9,906.1 1328.0,906.0C1328.1,905.9 1328.3,905.8 1328.4,905.7C1328.6,905.6 1328.7,905.5 1328.9,905.4C1329.0,905.4 1329.2,905.3 1329.4,905.3C1329.5,905.2 1329.7,905.2 1329.9,905.2C1330.1,905.1 1330.2,905.2 1330.4,905.2" fill="none" stroke="#020a14" stroke-width="0.80"/>
<g stroke="#06264e" stroke-width="0.9"><line x1="1330.4" y1="882.9" x2="1330.4" y2="940.0"/></g>
<g stroke="#14903a" stroke-width="1.45" stroke-opacity="0.9">
<line x1="612.5" y1="860.1" x2="580.9" y2="900.4"/>
<line x1="612.5" y1="860.1" x2="634.9" y2="909"/>
<line x1="612.5" y1="860.1" x2="679.2" y2="894.9"/>
<line x1="612.5" y1="860.1" x2="620.8" y2="950.5"/>
<line x1="580.9" y1="900.4" x2="634.9" y2="909"/>
<line x1="580.9" y1="900.4" x2="670.9" y2="943.2"/>
<line x1="634.9" y1="909" x2="679.2" y2="894.9"/>
<line x1="634.9" y1="909" x2="647.5" y2="1007"/>
<line x1="679.2" y1="894.9" x2="620.8" y2="950.5"/>
<line x1="679.2" y1="894.9" x2="670.9" y2="943.2"/>
<line x1="620.8" y1="950.5" x2="716.5" y2="980.6"/>
<line x1="620.8" y1="950.5" x2="647.5" y2="1007"/>
<line x1="670.9" y1="943.2" x2="716.5" y2="980.6"/>
<line x1="670.9" y1="943.2" x2="647.5" y2="1007"/>
<line x1="716.5" y1="980.6" x2="647.5" y2="1007"/>
</g><g fill="#179a58" stroke="#18803c" stroke-width="0.6">
<ellipse cx="612.5" cy="860.1" rx="3.6" ry="2.9"/>
<ellipse cx="580.9" cy="900.4" rx="3.6" ry="2.9"/>
<ellipse cx="634.9" cy="909" rx="3.6" ry="2.9"/>
<ellipse cx="679.2" cy="894.9" rx="3.6" ry="2.9"/>
<ellipse cx="620.8" cy="950.5" rx="3.6" ry="2.9"/>
<ellipse cx="670.9" cy="943.2" rx="3.6" ry="2.9"/>
<ellipse cx="716.5" cy="980.6" rx="3.6" ry="2.9"/>
<ellipse cx="647.5" cy="1007" rx="3.6" ry="2.9"/>
</g>
<g fill="#22057a" font-style="italic" font-weight="bold" font-size="13">
<text x="833.8" y="102.6" textLength="16.9" lengthAdjust="spacingAndGlyphs">∂V</text>
<text x="836.9" y="120.4" textLength="11.9" lengthAdjust="spacingAndGlyphs">∂t</text>
<text x="856.6" y="114.6" textLength="9.0" lengthAdjust="spacingAndGlyphs" font-style="normal">+</text>
<text x="871.2" y="103.0" textLength="4.6" lengthAdjust="spacingAndGlyphs" font-style="normal">1</text>
<text x="870.8" y="120.8" textLength="5.6" lengthAdjust="spacingAndGlyphs" font-style="normal">2</text>
<text x="878.3" y="114.6" textLength="7.8" lengthAdjust="spacingAndGlyphs">σ</text>
<text x="886.9" y="109.1" font-size="8.5" font-style="normal">2</text>
<text x="892.8" y="114.6" textLength="7.2" lengthAdjust="spacingAndGlyphs">S</text>
<text x="901.2" y="109.1" font-size="8.5" font-style="normal">2</text>
<text x="908.1" y="102.6" textLength="7.2" lengthAdjust="spacingAndGlyphs">∂</text>
<text x="915.4" y="98.1" font-size="8.5" font-style="normal">2</text>
<text x="919.8" y="102.6" textLength="10.2" lengthAdjust="spacingAndGlyphs">V</text>
<text x="908.8" y="120.4" textLength="14.6" lengthAdjust="spacingAndGlyphs">∂S</text>
<text x="924.0" y="115.9" font-size="8.5" font-style="normal">2</text>
<text x="935.4" y="114.6" textLength="9.0" lengthAdjust="spacingAndGlyphs" font-style="normal">+</text>
<text x="948.8" y="114.6" textLength="13.8" lengthAdjust="spacingAndGlyphs">rS</text>
<text x="965.0" y="102.6" textLength="17.5" lengthAdjust="spacingAndGlyphs">∂V</text>
<text x="965.6" y="120.4" textLength="15.0" lengthAdjust="spacingAndGlyphs">∂S</text>
<text x="988.6" y="114.6" textLength="7.8" lengthAdjust="spacingAndGlyphs" font-style="normal">−</text>
<text x="1001.2" y="114.6" textLength="15.7" lengthAdjust="spacingAndGlyphs">rV</text>
<text x="1021.8" y="114.6" textLength="9.6" lengthAdjust="spacingAndGlyphs" font-style="normal">=</text>
<text x="1035.0" y="114.6" textLength="10.0" lengthAdjust="spacingAndGlyphs" font-style="normal">0.</text>
</g>
<g stroke="#22057a" stroke-width="1.1">
<line x1="833.75" y1="108.6" x2="851.9" y2="108.6"/>
<line x1="870.4" y1="108.6" x2="877" y2="108.6"/>
<line x1="908.1" y1="108.6" x2="930.6" y2="108.6"/>
<line x1="964.4" y1="108.6" x2="983.1" y2="108.6"/>
</g>
<g fill="#0a1a6a" font-style="italic" font-weight="bold">
<path d="M1127.8,357.0 C1128.0,359.4 1131.0,359.6 1132.0,355.3 L1137.0,323.1 C1138.0,318.8 1141.0,319.0 1141.2,321.4" fill="none" stroke="#0a1a6a" stroke-width="1.7" stroke-linecap="round"/><circle cx="1128.1" cy="356.8" r="1.5" fill="#0a1a6a"/><circle cx="1140.9" cy="321.6" r="1.5" fill="#0a1a6a"/>
<text x="1135.9" y="359.5" font-size="10.5" textLength="14.6" lengthAdjust="spacingAndGlyphs">∂Ω</text>
<text x="1155.9" y="343.8" font-size="18" textLength="10.4" lengthAdjust="spacingAndGlyphs">ω</text>
<text x="1172.0" y="344.2" font-size="17" textLength="12.0" lengthAdjust="spacingAndGlyphs" font-style="normal">=</text>
<path d="M1191.9,357.0 C1192.1,359.4 1195.1,359.6 1196.1,355.3 L1201.1,323.1 C1202.1,318.8 1205.1,319.0 1205.3,321.4" fill="none" stroke="#0a1a6a" stroke-width="1.7" stroke-linecap="round"/><circle cx="1192.2" cy="356.8" r="1.5" fill="#0a1a6a"/><circle cx="1205.0" cy="321.6" r="1.5" fill="#0a1a6a"/>
<text x="1200.0" y="359.5" font-size="10.5" textLength="8.2" lengthAdjust="spacingAndGlyphs">Ω</text>
<text x="1213.2" y="343.8" font-size="18" textLength="20.0" lengthAdjust="spacingAndGlyphs">dω</text>
</g>
<g clip-path="url(#clipO)"><g fill="#6a3a0a" font-style="italic" font-weight="bold">
<path d="M1127.8,357.0 C1128.0,359.4 1131.0,359.6 1132.0,355.3 L1137.0,323.1 C1138.0,318.8 1141.0,319.0 1141.2,321.4" fill="none" stroke="#6a3a0a" stroke-width="1.7" stroke-linecap="round"/><circle cx="1128.1" cy="356.8" r="1.5" fill="#6a3a0a"/><circle cx="1140.9" cy="321.6" r="1.5" fill="#6a3a0a"/>
<text x="1135.9" y="359.5" font-size="10.5" textLength="14.6" lengthAdjust="spacingAndGlyphs">∂Ω</text>
<text x="1155.9" y="343.8" font-size="18" textLength="10.4" lengthAdjust="spacingAndGlyphs">ω</text>
<text x="1172.0" y="344.2" font-size="17" textLength="12.0" lengthAdjust="spacingAndGlyphs" font-style="normal">=</text>
<path d="M1191.9,357.0 C1192.1,359.4 1195.1,359.6 1196.1,355.3 L1201.1,323.1 C1202.1,318.8 1205.1,319.0 1205.3,321.4" fill="none" stroke="#6a3a0a" stroke-width="1.7" stroke-linecap="round"/><circle cx="1192.2" cy="356.8" r="1.5" fill="#6a3a0a"/><circle cx="1205.0" cy="321.6" r="1.5" fill="#6a3a0a"/>
<text x="1200.0" y="359.5" font-size="10.5" textLength="8.2" lengthAdjust="spacingAndGlyphs">Ω</text>
<text x="1213.2" y="343.8" font-size="18" textLength="20.0" lengthAdjust="spacingAndGlyphs">dω</text>
</g></g>
<g fill="#0b5a14" stroke="#0b5a14" stroke-width="0.75" font-family="'DejaVu Serif','DejaVu Sans',serif">
<text x="617.2" y="736.3" font-size="18.5" textLength="13.2" lengthAdjust="spacingAndGlyphs">𝔸</text>
<text x="631.5" y="741.0" font-size="12" textLength="10.3" lengthAdjust="spacingAndGlyphs">ℚ</text>
<text x="650.4" y="737.4" font-size="18" textLength="13.2" lengthAdjust="spacingAndGlyphs">=</text>
<text x="671.4" y="739.0" font-size="20" textLength="6.0" lengthAdjust="spacingAndGlyphs">(</text>
<text x="710.6" y="715.8" font-size="11.5" textLength="8.4" lengthAdjust="spacingAndGlyphs">ℤ</text>
<text x="719.4" y="718.4" font-size="8.5" font-style="italic">p</text>
<text x="677.9" y="757.6" font-size="12" textLength="31.5" lengthAdjust="spacingAndGlyphs" font-style="italic">p&lt;∞</text>
<text x="729.5" y="738.0" font-size="18.5" textLength="12.6" lengthAdjust="spacingAndGlyphs">ℚ</text>
<text x="743.2" y="742.0" font-size="11.5" font-style="italic">p</text>
<text x="753.3" y="739.0" font-size="20" textLength="6.0" lengthAdjust="spacingAndGlyphs">)</text>
<text x="767.9" y="737.4" font-size="18" textLength="9.7" lengthAdjust="spacingAndGlyphs">×</text>
<text x="785.6" y="736.3" font-size="18.5" textLength="12.6" lengthAdjust="spacingAndGlyphs">ℝ</text>
</g>
<g fill="none" stroke="#0b5a14"><path d="M680.2,714 L694,710.2 L707.8,714" stroke-width="1.1"/><path d="M688,718 V744.6 M699.7,718 V744.6" stroke-width="2.6"/><path d="M681.9,717.8 H705.4" stroke-width="1.5"/><path d="M682.4,745 H693.6 M694.2,745 H705.4" stroke-width="1"/></g>
<g fill="#0a1a82" font-style="italic" font-size="21">
<text x="865.5" y="822.5" textLength="5.7" lengthAdjust="spacingAndGlyphs" font-style="normal">(</text>
<text x="873.5" y="821.5" textLength="13.7" lengthAdjust="spacingAndGlyphs">A</text>
<text x="895.8" y="822.5" textLength="14.4" lengthAdjust="spacingAndGlyphs" font-style="normal">=</text>
<text x="919.3" y="821.5" textLength="10.9" lengthAdjust="spacingAndGlyphs">B</text>
<text x="934.2" y="822.5" textLength="5.2" lengthAdjust="spacingAndGlyphs" font-style="normal">)</text>
<text x="953.7" y="822.5" textLength="15.5" lengthAdjust="spacingAndGlyphs" font-style="normal" font-family="'DejaVu Serif',serif" font-size="25">≃</text>
<text x="983.5" y="822.5" textLength="5.7" lengthAdjust="spacingAndGlyphs" font-style="normal">(</text>
<text x="992.1" y="821.5" textLength="13.7" lengthAdjust="spacingAndGlyphs">A</text>
<text x="1014.4" y="822.5" textLength="14.9" lengthAdjust="spacingAndGlyphs" font-style="normal" font-family="'DejaVu Serif',serif" font-size="25">≃</text>
<text x="1038.5" y="821.5" textLength="10.9" lengthAdjust="spacingAndGlyphs">B</text>
<text x="1052.8" y="822.5" textLength="5.2" lengthAdjust="spacingAndGlyphs" font-style="normal">)</text>
</g>
<g clip-path="url(#clipG)"><g fill="#0a8040" font-style="italic" font-size="21">
<text x="865.5" y="822.5" textLength="5.7" lengthAdjust="spacingAndGlyphs" font-style="normal">(</text>
<text x="873.5" y="821.5" textLength="13.7" lengthAdjust="spacingAndGlyphs">A</text>
<text x="895.8" y="822.5" textLength="14.4" lengthAdjust="spacingAndGlyphs" font-style="normal">=</text>
<text x="919.3" y="821.5" textLength="10.9" lengthAdjust="spacingAndGlyphs">B</text>
<text x="934.2" y="822.5" textLength="5.2" lengthAdjust="spacingAndGlyphs" font-style="normal">)</text>
<text x="953.7" y="822.5" textLength="15.5" lengthAdjust="spacingAndGlyphs" font-style="normal" font-family="'DejaVu Serif',serif" font-size="25">≃</text>
<text x="983.5" y="822.5" textLength="5.7" lengthAdjust="spacingAndGlyphs" font-style="normal">(</text>
<text x="992.1" y="821.5" textLength="13.7" lengthAdjust="spacingAndGlyphs">A</text>
<text x="1014.4" y="822.5" textLength="14.9" lengthAdjust="spacingAndGlyphs" font-style="normal" font-family="'DejaVu Serif',serif" font-size="25">≃</text>
<text x="1038.5" y="821.5" textLength="10.9" lengthAdjust="spacingAndGlyphs">B</text>
<text x="1052.8" y="822.5" textLength="5.2" lengthAdjust="spacingAndGlyphs" font-style="normal">)</text>
</g></g>
</g>
<g id="labels">
<text x="46.5" y="48.0" font-size="31.4" textLength="769" lengthAdjust="spacingAndGlyphs" font-weight="bold">a biased, not fully faithful geometric representation of mathematics</text>
<text x="46.5" y="77.0" font-size="21.5" textLength="350" lengthAdjust="spacingAndGlyphs" stroke="#000" stroke-width="0.30">arrows indicate how to take the quotient</text>
<text x="46.5" y="131.0" font-size="21.5" textLength="295" lengthAdjust="spacingAndGlyphs" stroke="#000" stroke-width="0.30">by axel sarlin and innokentij zotov</text>
<text x="46.5" y="172.0" font-size="17.1" textLength="58.5" lengthAdjust="spacingAndGlyphs" stroke="#000" stroke-width="0.24">updated</text>
<text x="114" y="172.0" font-size="13.8" textLength="76" lengthAdjust="spacingAndGlyphs" stroke="#000" stroke-width="0.19">2017-02-08</text>
<text x="199.4" y="172.0" font-size="13.8" textLength="32.3" lengthAdjust="spacingAndGlyphs" stroke="#000" stroke-width="0.19">21:10</text>
<text x="742" y="147.0" font-size="26.4" textLength="49" lengthAdjust="spacingAndGlyphs" stroke="#000" stroke-width="0.37">PDE</text>
<text x="1148" y="109.0" font-size="18.7" textLength="100" lengthAdjust="spacingAndGlyphs" stroke="#000" stroke-width="0.26">finance maths</text>
<text x="1314" y="136.0" font-size="18.7" textLength="129" lengthAdjust="spacingAndGlyphs" stroke="#000" stroke-width="0.26">measure-theoretic</text>
<text x="1314" y="158.0" font-size="18.7" textLength="131" lengthAdjust="spacingAndGlyphs" stroke="#000" stroke-width="0.26">probability theory</text>
<text x="1000" y="159.0" font-size="22.0" textLength="124" lengthAdjust="spacingAndGlyphs" stroke="#000" stroke-width="0.31">ergodic theory</text>
<text x="535" y="192.0" font-size="21.5" textLength="153" lengthAdjust="spacingAndGlyphs" stroke="#000" stroke-width="0.30">harmonic analysis</text>
<text x="853" y="199.0" font-size="25.3" textLength="184" lengthAdjust="spacingAndGlyphs" stroke="#000" stroke-width="0.35">dynamical systems</text>
<text x="1251" y="225.0" font-size="25.3" textLength="153" lengthAdjust="spacingAndGlyphs" stroke="#000" stroke-width="0.35">measure theory</text>
<text x="921" y="258.5" font-size="35.2" textLength="103" lengthAdjust="spacingAndGlyphs" stroke="#000" stroke-width="0.49">analysis</text>
<text x="397" y="291.0" font-size="25.3" textLength="171" lengthAdjust="spacingAndGlyphs" stroke="#000" stroke-width="0.35">quantum physics</text>
<text x="645" y="294.0" font-size="25.3" textLength="186" lengthAdjust="spacingAndGlyphs" stroke="#000" stroke-width="0.35">functional analysis</text>
<text x="968" y="309.0" font-size="22.0" textLength="143" lengthAdjust="spacingAndGlyphs" stroke="#000" stroke-width="0.31">complex analysis</text>
<text x="1300" y="291.0" font-size="20.9" textLength="202" lengthAdjust="spacingAndGlyphs" stroke="#000" stroke-width="0.29">geometric measure theory</text>
<text x="935" y="369.0" font-size="19.8" textLength="74" lengthAdjust="spacingAndGlyphs" stroke="#000" stroke-width="0.28">lie theory</text>
<text x="1293" y="354.0" font-size="19.8" textLength="90" lengthAdjust="spacingAndGlyphs" stroke="#000" stroke-width="0.28">riemannian</text>
<text x="1293" y="379.0" font-size="19.8" textLength="74" lengthAdjust="spacingAndGlyphs" stroke="#000" stroke-width="0.28">geometry</text>
<text x="1411" y="334.0" font-size="19.8" textLength="83" lengthAdjust="spacingAndGlyphs" stroke="#000" stroke-width="0.28">symplectic</text>
<text x="1411" y="360.0" font-size="19.8" textLength="74" lengthAdjust="spacingAndGlyphs" stroke="#000" stroke-width="0.28">geometry</text>
<text x="1053" y="400.0" font-size="26.4" textLength="209" lengthAdjust="spacingAndGlyphs" stroke="#000" stroke-width="0.37">differential geometry</text>
<text x="1389" y="405.0" font-size="22.0" textLength="19" lengthAdjust="spacingAndGlyphs" font-weight="bold" stroke="#000" stroke-width="0.31">**</text>
<text x="1613" y="337.0" font-size="22.0" textLength="10" lengthAdjust="spacingAndGlyphs" font-weight="bold" stroke="#000" stroke-width="0.31">*</text>
<text x="1293" y="445.0" font-size="22.0" textLength="176" lengthAdjust="spacingAndGlyphs" stroke="#000" stroke-width="0.31">differential topology</text>
<text x="306" y="342.0" font-size="18.7" textLength="67" lengthAdjust="spacingAndGlyphs" stroke="#000" stroke-width="0.26">quantum</text>
<text x="306" y="364.0" font-size="18.7" textLength="138" lengthAdjust="spacingAndGlyphs" stroke="#000" stroke-width="0.26">information theory</text>
<text x="194" y="445.0" font-size="25.3" textLength="145" lengthAdjust="spacingAndGlyphs" stroke="#000" stroke-width="0.35">representation</text>
<text x="194" y="476.0" font-size="25.3" textLength="65" lengthAdjust="spacingAndGlyphs" stroke="#000" stroke-width="0.35">theory</text>
<text x="264.5" y="475.0" font-size="18.7" textLength="8.5" lengthAdjust="spacingAndGlyphs" stroke="#000" stroke-width="0.26">†</text>
<text x="795" y="451.0" font-size="18.7" textLength="14" lengthAdjust="spacingAndGlyphs" stroke="#000" stroke-width="0.26">††</text>
<text x="557" y="511.3" font-size="25.3" textLength="210" lengthAdjust="spacingAndGlyphs" stroke="#000" stroke-width="0.35">commutative algebra</text>
<text x="297" y="574.0" font-size="19.8" textLength="176" lengthAdjust="spacingAndGlyphs" stroke="#000" stroke-width="0.28">computational algebra</text>
<text x="530" y="557.5" font-size="19.8" textLength="142" lengthAdjust="spacingAndGlyphs" stroke="#000" stroke-width="0.28">non-commutative</text>
<text x="530" y="582.5" font-size="19.8" textLength="168" lengthAdjust="spacingAndGlyphs" stroke="#000" stroke-width="0.28">algebra and geometry</text>
<text x="750" y="567.8" font-size="25.3" textLength="187" lengthAdjust="spacingAndGlyphs" stroke="#000" stroke-width="0.35">algebraic geometry</text>
<text x="716" y="607.2" font-size="18.7" textLength="104" lengthAdjust="spacingAndGlyphs" stroke="#000" stroke-width="0.26">arithmetic and</text>
<text x="716" y="629.8" font-size="18.7" textLength="159" lengthAdjust="spacingAndGlyphs" stroke="#000" stroke-width="0.26">diophantine geometry</text>
<text x="391" y="633.0" font-size="35.2" textLength="96" lengthAdjust="spacingAndGlyphs" stroke="#000" stroke-width="0.49">algebra</text>
<text x="521" y="649.6" font-size="18.7" textLength="55" lengthAdjust="spacingAndGlyphs" stroke="#000" stroke-width="0.26">tropical</text>
<text x="521" y="672.6" font-size="18.7" textLength="67" lengthAdjust="spacingAndGlyphs" stroke="#000" stroke-width="0.26">geometry</text>
<text x="619" y="683.0" font-size="27.5" textLength="262" lengthAdjust="spacingAndGlyphs" stroke="#000" stroke-width="0.39">algebraic number theory</text>
<text x="926" y="470.0" font-size="17.6" textLength="141" lengthAdjust="spacingAndGlyphs" stroke="#000" stroke-width="0.25">alg. and top. K-theory</text>
<text x="911" y="522.8" font-size="22.6" textLength="171" lengthAdjust="spacingAndGlyphs" stroke="#000" stroke-width="0.32">homological algebra</text>
<text x="1252" y="527.8" font-size="35.2" textLength="115" lengthAdjust="spacingAndGlyphs" stroke="#000" stroke-width="0.49">topology</text>
<text x="1437" y="524.0" font-size="20.9" textLength="92" lengthAdjust="spacingAndGlyphs" stroke="#000" stroke-width="0.29">knot theory</text>
<text x="1590" y="476.0" font-size="20.9" textLength="81" lengthAdjust="spacingAndGlyphs" stroke="#000" stroke-width="0.29">top. graph</text>
<text x="1590" y="501.0" font-size="20.9" textLength="50" lengthAdjust="spacingAndGlyphs" stroke="#000" stroke-width="0.29">theory</text>
<text x="1337" y="577.0" font-size="23.1" textLength="225" lengthAdjust="spacingAndGlyphs" stroke="#000" stroke-width="0.32">low-dimensional topology</text>
<text x="1111" y="605.0" font-size="25.3" textLength="183" lengthAdjust="spacingAndGlyphs" stroke="#000" stroke-width="0.35">algebraic topology</text>
<text x="1089" y="672.0" font-size="19.2" textLength="127" lengthAdjust="spacingAndGlyphs" stroke="#000" stroke-width="0.27">homotopy theory</text>
<text x="885" y="719.6" font-size="26.4" textLength="165" lengthAdjust="spacingAndGlyphs" stroke="#000" stroke-width="0.37">category theory</text>
<text x="1099" y="727.0" font-size="22.0" textLength="109" lengthAdjust="spacingAndGlyphs" stroke="#000" stroke-width="0.31">topos theory</text>
<text x="1302.5" y="725.5" font-size="20.9" textLength="25.5" lengthAdjust="spacingAndGlyphs" font-weight="bold" stroke="#000" stroke-width="0.29">***</text>
<text x="903" y="761.0" font-size="20.4" textLength="178" lengthAdjust="spacingAndGlyphs" stroke="#000" stroke-width="0.29">homotopy type theory</text>
<text x="1261" y="818.5" font-size="35.2" textLength="61" lengthAdjust="spacingAndGlyphs" stroke="#000" stroke-width="0.49">logic</text>
<text x="1097" y="862.0" font-size="25.3" textLength="133" lengthAdjust="spacingAndGlyphs" stroke="#000" stroke-width="0.35">model theory</text>
<text x="1420" y="891.0" font-size="25.3" textLength="127" lengthAdjust="spacingAndGlyphs" stroke="#000" stroke-width="0.35">proof theory</text>
<text x="909" y="901.0" font-size="22.0" textLength="131" lengthAdjust="spacingAndGlyphs" stroke="#000" stroke-width="0.31">decision theory</text>
<text x="1001" y="950.0" font-size="22.0" textLength="182" lengthAdjust="spacingAndGlyphs" stroke="#000" stroke-width="0.31">computability theory</text>
<text x="1216" y="992.0" font-size="25.3" textLength="97" lengthAdjust="spacingAndGlyphs" stroke="#000" stroke-width="0.35">set theory</text>
<text x="279" y="721.0" font-size="25.3" textLength="132" lengthAdjust="spacingAndGlyphs" stroke="#000" stroke-width="0.35">group theory</text>
<text x="210" y="794.0" font-size="25.3" textLength="134" lengthAdjust="spacingAndGlyphs" stroke="#000" stroke-width="0.35">cryptography</text>
<text x="516" y="787.0" font-size="18.7" textLength="168" lengthAdjust="spacingAndGlyphs" stroke="#000" stroke-width="0.26">algebraic combinatorics</text>
<text x="411" y="839.0" font-size="24.2" textLength="142" lengthAdjust="spacingAndGlyphs" stroke="#000" stroke-width="0.34">combinatorics</text>
<text x="255" y="885.0" font-size="34.1" textLength="182" lengthAdjust="spacingAndGlyphs" stroke="#000" stroke-width="0.48">discrete maths</text>
<text x="255" y="947.6" font-size="18.7" textLength="137" lengthAdjust="spacingAndGlyphs" stroke="#000" stroke-width="0.26">discrete probability</text>
<text x="255" y="970.6" font-size="18.7" textLength="45" lengthAdjust="spacingAndGlyphs" stroke="#000" stroke-width="0.26">theory</text>
<text x="428" y="979.7" font-size="25.3" textLength="129" lengthAdjust="spacingAndGlyphs" stroke="#000" stroke-width="0.35">graph theory</text>
<text x="1663" y="767.0" font-size="18.7" textLength="216" lengthAdjust="spacingAndGlyphs" stroke="#000" stroke-width="0.26">* the gray shape is supposed to</text>
<text x="1663" y="790.0" font-size="18.7" textLength="175" lengthAdjust="spacingAndGlyphs" stroke="#000" stroke-width="0.26">loosely represent various</text>
<text x="1663" y="813.0" font-size="18.7" textLength="140" lengthAdjust="spacingAndGlyphs" stroke="#000" stroke-width="0.26">aspects of geometry</text>
<text x="1625" y="906.0" font-size="18.7" textLength="236" lengthAdjust="spacingAndGlyphs" stroke="#000" stroke-width="0.26">** many physical subjects, such as</text>
<text x="1625" y="928.0" font-size="18.7" textLength="216" lengthAdjust="spacingAndGlyphs" stroke="#000" stroke-width="0.26">gauge theory, 4-manifolds and</text>
<text x="1625" y="951.0" font-size="18.7" textLength="234" lengthAdjust="spacingAndGlyphs" stroke="#000" stroke-width="0.26">relativity could be placed around</text>
<text x="1625" y="974.0" font-size="18.7" textLength="30" lengthAdjust="spacingAndGlyphs" stroke="#000" stroke-width="0.26">here</text>
<text x="872" y="1060.0" font-size="18.7" textLength="505" lengthAdjust="spacingAndGlyphs" stroke="#000" stroke-width="0.26">† representation theory is hard to place: it has many connections to e.g.</text>
<text x="872" y="1083.0" font-size="18.7" textLength="526" lengthAdjust="spacingAndGlyphs" stroke="#000" stroke-width="0.26">number theory, differential geometry, harmonic analysis, combinatorics…</text>
<text x="860" y="1108.0" font-size="18.7" textLength="646" lengthAdjust="spacingAndGlyphs" stroke="#000" stroke-width="0.26">†† whilst not really a research subject on its own, linear algebra would fit in here. Some still</text>
<text x="860" y="1131.0" font-size="18.7" textLength="570" lengthAdjust="spacingAndGlyphs" stroke="#000" stroke-width="0.26">active aspects of it could be considered computational or commutative algebra…</text>
<text x="1545" y="1060.0" font-size="18.7" textLength="309" lengthAdjust="spacingAndGlyphs" stroke="#000" stroke-width="0.26">*** the n-lab perspective on modern physics</text>
<text x="1545" y="1083.0" font-size="18.7" textLength="237" lengthAdjust="spacingAndGlyphs" stroke="#000" stroke-width="0.26">would end up in here somewhere</text>
</g>
</svg>
</body></html>
